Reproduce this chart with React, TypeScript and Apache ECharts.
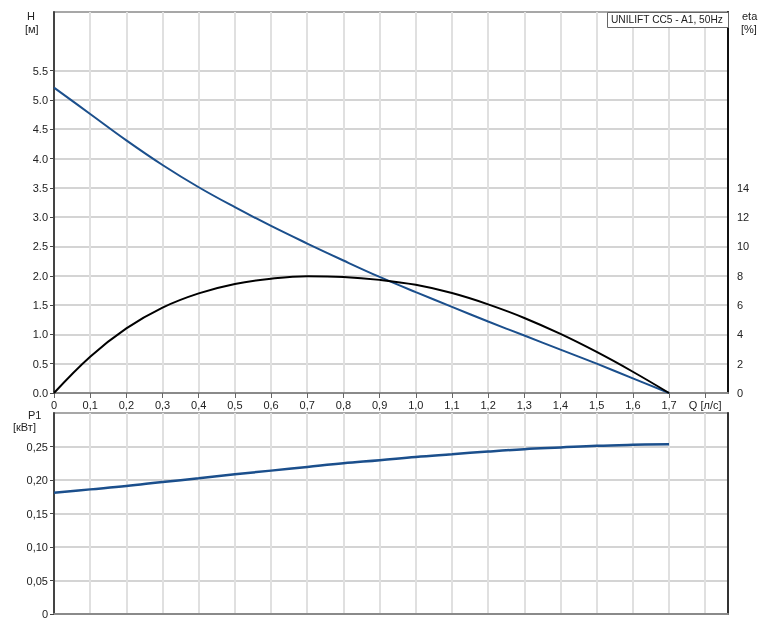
import React, { useEffect, useRef } from "react";
import * as echarts from "echarts";

const Q_VALUES = [0, 0.1, 0.2, 0.3, 0.4, 0.5, 0.6, 0.7, 0.8, 0.9, 1.0, 1.1, 1.2, 1.3, 1.4, 1.5, 1.6, 1.7];
const H_VALUES = [5.21, 4.76, 4.31, 3.89, 3.51, 3.17, 2.85, 2.55, 2.26, 1.98, 1.72, 1.47, 1.22, 0.98, 0.74, 0.50, 0.25, 0];
const ETA_VALUES = [0, 2.48, 4.41, 5.83, 6.8, 7.44, 7.8, 7.97, 7.92, 7.72, 7.38, 6.82, 6.05, 5.12, 4.03, 2.8, 1.45, 0];
const P1_VALUES = [0.181, 0.186, 0.191, 0.197, 0.2025, 0.2085, 0.214, 0.2195, 0.225, 0.2295, 0.2345, 0.2385, 0.2425, 0.246, 0.2485, 0.251, 0.2525, 0.2535];
const H_TICKS = [0, 0.5, 1, 1.5, 2, 2.5, 3, 3.5, 4, 4.5, 5, 5.5];
const ETA_TICKS = [0, 2, 4, 6, 8, 10, 12, 14];
const P1_TICKS = [0, 0.05, 0.1, 0.15, 0.2, 0.25];
const LEGEND_TEXT = "UNILIFT CC5 - A1, 50Hz";
const Q_UNIT_LABEL = "Q [л/с]";

const FONT = "Liberation Sans, Arial, sans-serif";
const BLUE = "#1b4f8c";
const TEXT = "#222";

export default function App() {
  const ref = useRef<HTMLDivElement>(null);
  useEffect(() => {
    if (!ref.current) return;
    const chart = echarts.init(ref.current, null, { renderer: "svg" });
    const xMax = 1.863;
    const xFmt = (v: number) => {
      if (Math.abs(v) < 1e-9) return "0";
      if (Math.abs(v - 1.8) < 1e-6) return Q_UNIT_LABEL;
      if (v > 1.81) return "";
      return v.toFixed(1).replace(".", ",");
    };
    const vSplit = { show: true, lineStyle: { color: "#e0e0e0", width: 2 } };
    const hSplit = { show: true, lineStyle: { color: "#d4d4d4", width: 2 } };
    const option: any = {
      animation: false,
      textStyle: { fontFamily: FONT },
      grid: [
        { left: 54, right: 35, top: 12, height: 381, show: true, borderColor: "#8a8a8a", borderWidth: 1.5, backgroundColor: "#fff" },
        { left: 54, right: 35, top: 413, height: 201, show: true, borderColor: "#8a8a8a", borderWidth: 1.5, backgroundColor: "#fff" },
      ],
      xAxis: [
        {
          type: "value", gridIndex: 0, min: 0, max: xMax, interval: 0.1,
          axisLine: { show: true, onZero: false, lineStyle: { color: "#8a8a8a", width: 2 } },
          axisTick: { show: true, inside: false, length: 5, lineStyle: { color: "#666", width: 1 }, customValues: [0, 0.1, 0.2, 0.3, 0.4, 0.5, 0.6, 0.7, 0.8, 0.9, 1.0, 1.1, 1.2, 1.3, 1.4, 1.5, 1.6, 1.7, 1.8] },
          axisLabel: { show: true, margin: 6, fontSize: 11, color: TEXT, fontFamily: FONT, formatter: xFmt, showMaxLabel: false },
          splitLine: vSplit,
        },
        {
          type: "value", gridIndex: 1, min: 0, max: xMax, interval: 0.1,
          axisLine: { show: true, onZero: false, lineStyle: { color: "#8a8a8a", width: 2 } },
          axisTick: { show: false },
          axisLabel: { show: false },
          splitLine: vSplit,
        },
      ],
      yAxis: [
        {
          type: "value", gridIndex: 0, min: 0, max: 6.5, interval: 0.5, position: "left",
          axisLine: { show: true, onZero: false, lineStyle: { color: "#444", width: 2 } },
          axisTick: { show: true, length: 4, lineStyle: { color: "#444", width: 1 }, customValues: H_TICKS },
          axisLabel: { margin: 6, fontSize: 11, color: TEXT, fontFamily: FONT, formatter: (v: number) => (v > 5.51 ? "" : v.toFixed(1)) },
          splitLine: hSplit,
        },
        {
          type: "value", gridIndex: 0, min: 0, max: 26, interval: 2, position: "right",
          axisLine: { show: true, onZero: false, lineStyle: { color: "#111", width: 2 } },
          axisTick: { show: false },
          axisLabel: { margin: 9, fontSize: 11, color: TEXT, fontFamily: FONT, formatter: (v: number) => (ETA_TICKS.includes(v) ? String(v) : "") },
          splitLine: { show: false },
        },
        {
          type: "value", gridIndex: 1, min: 0, max: 0.3, interval: 0.05, position: "left",
          axisLine: { show: true, onZero: false, lineStyle: { color: "#444", width: 2 } },
          axisTick: { show: true, length: 4, lineStyle: { color: "#444", width: 1 }, customValues: P1_TICKS },
          axisLabel: {
            margin: 6, fontSize: 11, color: TEXT, fontFamily: FONT,
            formatter: (v: number) => (Math.abs(v) < 1e-9 ? "0" : v > 0.26 ? "" : v.toFixed(2).replace(".", ",")),
          },
          splitLine: hSplit,
        },
        {
          type: "value", gridIndex: 1, min: 0, max: 1, position: "right",
          axisLine: { show: true, onZero: false, lineStyle: { color: "#333", width: 2 } },
          axisTick: { show: false }, axisLabel: { show: false }, splitLine: { show: false },
        },
      ],
      series: [
        {
          type: "line", xAxisIndex: 0, yAxisIndex: 0, smooth: 0.4, symbol: "none",
          lineStyle: { color: BLUE, width: 2 },
          data: Q_VALUES.map((q, i) => [q, H_VALUES[i]]),
        },
        {
          type: "line", xAxisIndex: 0, yAxisIndex: 1, smooth: 0.4, symbol: "none",
          lineStyle: { color: "#000", width: 2 },
          data: Q_VALUES.map((q, i) => [q, ETA_VALUES[i]]),
        },
        {
          type: "line", xAxisIndex: 1, yAxisIndex: 2, smooth: 0.4, symbol: "none",
          lineStyle: { color: BLUE, width: 2.5 },
          data: Q_VALUES.map((q, i) => [q, P1_VALUES[i]]),
        },
      ],
      graphic: [
        { type: "text", left: 27, top: 10, style: { text: "H", font: `11px ${FONT}`, fill: TEXT } },
        { type: "text", left: 25, top: 23, style: { text: "[м]", font: `11px ${FONT}`, fill: TEXT } },
        { type: "text", left: 742, top: 10, style: { text: "eta", font: `11px ${FONT}`, fill: TEXT } },
        { type: "text", left: 741, top: 23, style: { text: "[%]", font: `11px ${FONT}`, fill: TEXT } },
        { type: "text", left: 28, top: 409, style: { text: "P1", font: `11px ${FONT}`, fill: TEXT } },
        { type: "text", left: 13, top: 421, style: { text: "[кВт]", font: `11px ${FONT}`, fill: TEXT } },
        {
          type: "rect", left: 607, top: 12, z: 100,
          shape: { width: 121, height: 15 },
          style: { fill: "#fff", stroke: "#666", lineWidth: 1 },
        },
        { type: "text", left: 611, top: 14.5, z: 101, style: { text: LEGEND_TEXT, font: `10.2px ${FONT}`, fill: TEXT } },
      ],
    };
    chart.setOption(option);
    return () => chart.dispose();
  }, []);
  return <div ref={ref} style={{ position: "fixed", left: 0, top: 0, width: 763, height: 630 }} />;
}
